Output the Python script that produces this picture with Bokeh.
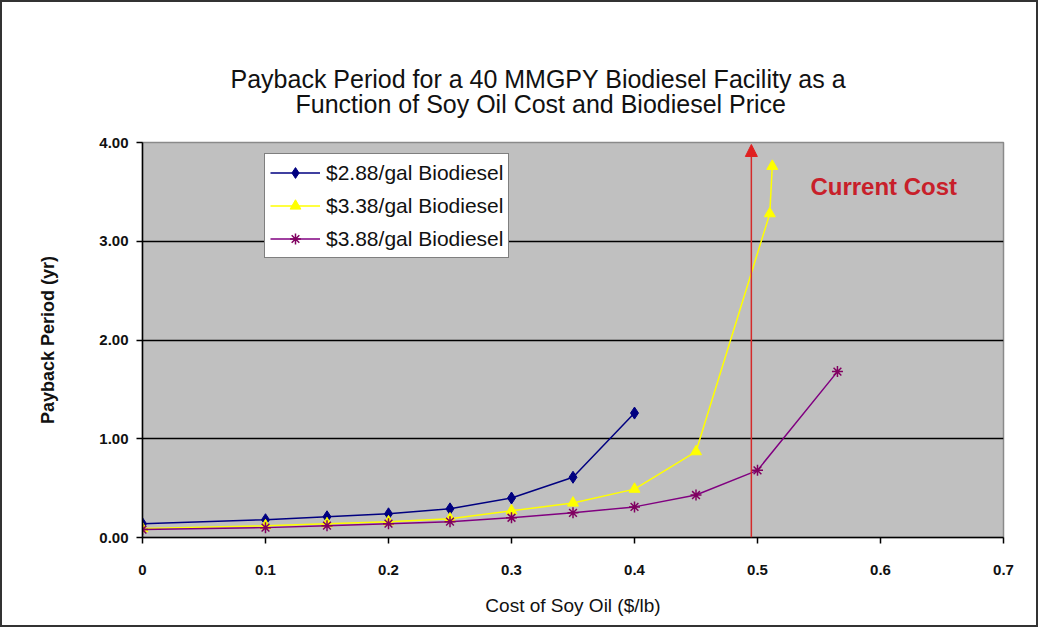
from bokeh.plotting import figure
from bokeh.layouts import column
from bokeh.models import (Range1d, FixedTicker, Legend, LegendItem, Label, Arrow, NormalHead,
                          Title, InlineStyleSheet)
from bokeh.embed import file_html
from bokeh.resources import INLINE

# ---- data ----
x_288 = [0.0, 0.1, 0.15, 0.2, 0.25, 0.3, 0.35, 0.4]
y_288 = [0.14, 0.18, 0.21, 0.24, 0.29, 0.40, 0.61, 1.26]

x_338 = [0.0, 0.1, 0.15, 0.2, 0.25, 0.3, 0.35, 0.4, 0.45, 0.51, 0.512]
y_338 = [0.09, 0.12, 0.14, 0.16, 0.19, 0.27, 0.35, 0.49, 0.87, 3.28, 3.76]

x_388 = [0.0, 0.1, 0.15, 0.2, 0.25, 0.3, 0.35, 0.4, 0.45, 0.5, 0.565]
y_388 = [0.08, 0.10, 0.12, 0.14, 0.16, 0.20, 0.25, 0.31, 0.43, 0.68, 1.68]

series_names = ["$2.88/gal Biodiesel", "$3.38/gal Biodiesel", "$3.88/gal Biodiesel"]

x_ticks = [0.0, 0.1, 0.2, 0.3, 0.4, 0.5, 0.6, 0.7]
x_tick_labels = ["0", "0.1", "0.2", "0.3", "0.4", "0.5", "0.6", "0.7"]
y_ticks = [0, 1, 2, 3, 4]
y_tick_labels = ["0.00", "1.00", "2.00", "3.00", "4.00"]

current_cost = 0.495
title_lines = ["Payback Period for a 40 MMGPY Biodiesel Facility as a",
               "Function of Soy Oil Cost and Biodiesel Price"]

SANS = "Liberation Sans, Arial, sans-serif"

p = figure(width=1034, height=623, output_backend="svg", toolbar_location=None,
           x_range=Range1d(0, 0.7), y_range=Range1d(0, 4.0),
           min_border_left=140, min_border_right=33, min_border_top=140, min_border_bottom=88,
           background_fill_color="#c0c0c0", border_fill_color="white")
p.title = None
p.outline_line_color = "#8a8a8a"
p.outline_line_width = 1.5

# title (two lines, inner one added first)
p.add_layout(Title(text=title_lines[1], align="left", offset=153, text_font=SANS,
                   text_font_style="normal", text_font_size="25px", text_color="#111",
                   standoff=50), "above")
p.add_layout(Title(text=title_lines[0], align="left", offset=88, text_font=SANS,
                   text_font_style="normal", text_font_size="25px", text_color="#111",
                   standoff=-60), "above")

# axes
p.xaxis.ticker = FixedTicker(ticks=x_ticks)
p.xaxis.major_label_overrides = {t: l for t, l in zip(x_ticks, x_tick_labels)}
p.yaxis.ticker = FixedTicker(ticks=y_ticks)
p.yaxis.major_label_overrides = {t: l for t, l in zip(y_ticks, y_tick_labels)}
for ax in (p.xaxis[0], p.yaxis[0]):
    ax.axis_line_color = "black"
    ax.axis_line_width = 1.5
    ax.major_tick_line_color = "black"
    ax.major_tick_line_width = 1.5
    ax.major_tick_in = 0
    ax.major_tick_out = 6
    ax.minor_tick_line_color = None
    ax.major_label_text_font = SANS
    ax.major_label_text_font_style = "bold"
    ax.major_label_text_font_size = "15px"
    ax.major_label_text_color = "#111"
p.xaxis.major_label_standoff = 21
p.yaxis.major_label_standoff = 8

p.xaxis.axis_label = "Cost of Soy Oil ($/lb)"
p.xaxis.axis_label_text_font = SANS
p.xaxis.axis_label_text_font_style = "normal"
p.xaxis.axis_label_text_font_size = "19px"
p.xaxis.axis_label_text_color = "#111"
p.xaxis.axis_label_standoff = 17

p.yaxis.axis_label = "Payback Period (yr)"
p.yaxis.axis_label_text_font = SANS
p.yaxis.axis_label_text_font_style = "bold"
p.yaxis.axis_label_text_font_size = "18px"
p.yaxis.axis_label_text_color = "#111"
p.yaxis.axis_label_standoff = 38

p.xgrid.grid_line_color = None
p.ygrid.grid_line_color = "black"
p.ygrid.grid_line_width = 1.5

# series
l1 = p.line(x_288, y_288, line_color="#000080", line_width=1.5)
m1 = p.scatter(x_288, y_288, marker="diamond", size=12, fill_color="#000080", line_color="#000080")
l2 = p.line(x_338, y_338, line_color="#ffff00", line_width=1.5)
m2 = p.scatter(x_338, y_338, marker="triangle", size=11, fill_color="#ffff00", line_color="#ffff00")
l3 = p.line(x_388, y_388, line_color="#800080", line_width=1.5)
m3 = p.scatter(x_388, y_388, marker="asterisk", size=11, line_color="#800060", line_width=1.5)

legend = Legend(items=[LegendItem(label=series_names[0], renderers=[l1, m1]),
                       LegendItem(label=series_names[1], renderers=[l2, m2]),
                       LegendItem(label=series_names[2], renderers=[l3, m3])],
                location=(122, 279), orientation="vertical",
                label_text_font=SANS, label_text_font_size="21px", label_text_color="#111",
                glyph_width=50, glyph_height=27, label_height=27, spacing=6,
                padding=5, margin=0, background_fill_color="white", background_fill_alpha=1,
                border_line_color="black", border_line_width=1.2, label_standoff=6)
p.add_layout(legend, "center")

# current cost arrow
arrow = Arrow(end=NormalHead(size=12, fill_color="#e02020", line_color="#e02020"),
              x_start=current_cost, y_start=0, x_end=current_cost, y_end=3.98,
              line_color="#d42a2a", line_width=1.5)
p.add_layout(arrow)
p.add_layout(Label(x=0.543, y=3.55, text="Current Cost", text_font=SANS,
                   text_font_style="bold", text_font_size="24px", text_color="#c8202a",
                   text_baseline="middle", text_align="left"))

frame_css = InlineStyleSheet(css=":host { border: 2px solid #333; }")
layout = column(p, stylesheets=[frame_css])

open("out.html", "w").write(file_html(layout, INLINE))
